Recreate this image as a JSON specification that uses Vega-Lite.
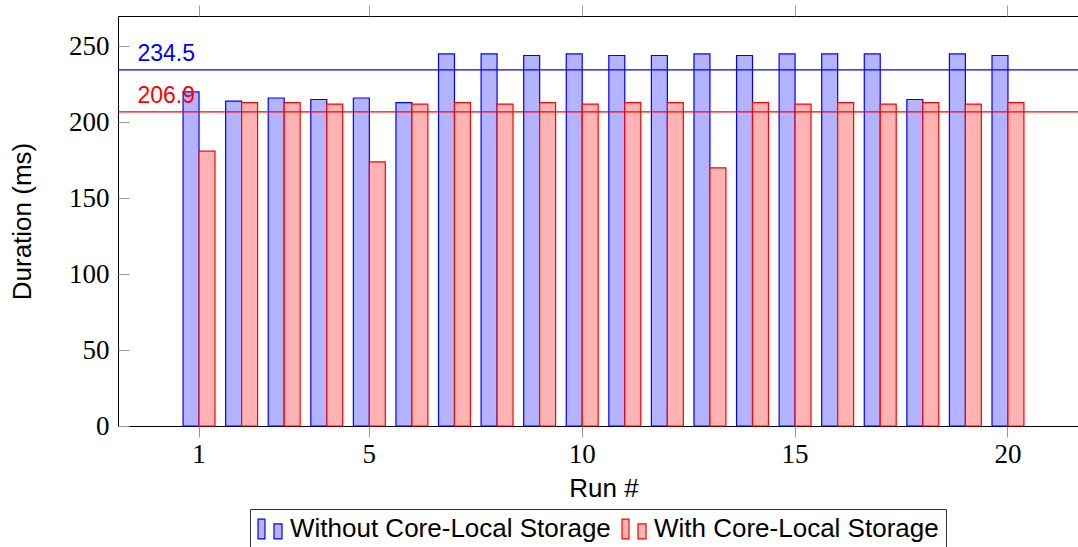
{
  "$schema": "https://vega.github.io/schema/vega-lite/v6.json",
  "width": 962,
  "height": 410,
  "autosize": "none",
  "padding": {"left": 118, "top": 16, "right": 0, "bottom": 121},
  "background": "white",
  "config": {"view": {"stroke": "black", "strokeWidth": 1}, "font": "Liberation Sans"},
  "datasets": {
    "runs": [
      {"run": 1, "series": "Without Core-Local Storage", "duration": 220},
      {"run": 2, "series": "Without Core-Local Storage", "duration": 214},
      {"run": 3, "series": "Without Core-Local Storage", "duration": 216},
      {"run": 4, "series": "Without Core-Local Storage", "duration": 215},
      {"run": 5, "series": "Without Core-Local Storage", "duration": 216},
      {"run": 6, "series": "Without Core-Local Storage", "duration": 213},
      {"run": 7, "series": "Without Core-Local Storage", "duration": 245},
      {"run": 8, "series": "Without Core-Local Storage", "duration": 245},
      {"run": 9, "series": "Without Core-Local Storage", "duration": 244},
      {"run": 10, "series": "Without Core-Local Storage", "duration": 245},
      {"run": 11, "series": "Without Core-Local Storage", "duration": 244},
      {"run": 12, "series": "Without Core-Local Storage", "duration": 244},
      {"run": 13, "series": "Without Core-Local Storage", "duration": 245},
      {"run": 14, "series": "Without Core-Local Storage", "duration": 244},
      {"run": 15, "series": "Without Core-Local Storage", "duration": 245},
      {"run": 16, "series": "Without Core-Local Storage", "duration": 245},
      {"run": 17, "series": "Without Core-Local Storage", "duration": 245},
      {"run": 18, "series": "Without Core-Local Storage", "duration": 215},
      {"run": 19, "series": "Without Core-Local Storage", "duration": 245},
      {"run": 20, "series": "Without Core-Local Storage", "duration": 244},
      {"run": 1, "series": "With Core-Local Storage", "duration": 181},
      {"run": 2, "series": "With Core-Local Storage", "duration": 213},
      {"run": 3, "series": "With Core-Local Storage", "duration": 213},
      {"run": 4, "series": "With Core-Local Storage", "duration": 212},
      {"run": 5, "series": "With Core-Local Storage", "duration": 174},
      {"run": 6, "series": "With Core-Local Storage", "duration": 212},
      {"run": 7, "series": "With Core-Local Storage", "duration": 213},
      {"run": 8, "series": "With Core-Local Storage", "duration": 212},
      {"run": 9, "series": "With Core-Local Storage", "duration": 213},
      {"run": 10, "series": "With Core-Local Storage", "duration": 212},
      {"run": 11, "series": "With Core-Local Storage", "duration": 213},
      {"run": 12, "series": "With Core-Local Storage", "duration": 213},
      {"run": 13, "series": "With Core-Local Storage", "duration": 170},
      {"run": 14, "series": "With Core-Local Storage", "duration": 213},
      {"run": 15, "series": "With Core-Local Storage", "duration": 212},
      {"run": 16, "series": "With Core-Local Storage", "duration": 213},
      {"run": 17, "series": "With Core-Local Storage", "duration": 212},
      {"run": 18, "series": "With Core-Local Storage", "duration": 213},
      {"run": 19, "series": "With Core-Local Storage", "duration": 212},
      {"run": 20, "series": "With Core-Local Storage", "duration": 213}
    ],
    "means": [
      {"series": "Without Core-Local Storage", "mean": 234.5},
      {"series": "With Core-Local Storage", "mean": 206.9}
    ]
  },
  "resolve": {"axis": {"x": "independent"}},
  "layer": [
    {
      "data": {"name": "runs"},
      "mark": {"type": "bar", "strokeWidth": 1.2},
      "encoding": {
        "x": {
          "field": "run", "type": "ordinal",
          "scale": {"range": [22.5, 948.5], "paddingInner": 0.25, "paddingOuter": 1, "align": 0.5},
          "axis": {
            "orient": "bottom", "title": "Run #", "values": [1, 5, 10, 15, 20], "labelAngle": 0, "domain": false,
            "tickSize": 11, "tickColor": "#999999",
            "labelFont": "Liberation Serif", "labelFontSize": 27, "labelColor": "black", "labelPadding": 4,
            "titleFont": "Liberation Sans", "titleFontSize": 26, "titleFontWeight": "normal", "titleColor": "black", "titlePadding": 8
          }
        },
        "xOffset": {
          "field": "series", "type": "nominal",
          "scale": {"domain": ["Without Core-Local Storage", "With Core-Local Storage"], "paddingInner": 0, "paddingOuter": 0}
        },
        "y": {
          "field": "duration", "type": "quantitative",
          "scale": {"domain": [0, 270], "nice": false},
          "axis": {
            "title": "Duration (ms)", "values": [0, 50, 100, 150, 200, 250], "grid": false, "domain": false,
            "tickSize": -11, "tickColor": "#999999",
            "labelFont": "Liberation Serif", "labelFontSize": 27, "labelColor": "black", "labelPadding": 20,
            "titleFont": "Liberation Sans", "titleFontSize": 26, "titleFontWeight": "normal", "titleColor": "black", "titlePadding": 33
          }
        },
        "fill": {
          "field": "series", "type": "nominal",
          "scale": {"domain": ["Without Core-Local Storage", "With Core-Local Storage"], "range": ["#b3b3ff", "#ffb3b3"]},
          "legend": {
            "title": null, "orient": "none", "legendX": 132, "legendY": 493, "direction": "horizontal",
            "symbolType": "M-1,-0.83H-0.42V0.83H-1Z M0.33,-0.42H1V0.83H0.33Z", "symbolSize": 576, "symbolStrokeWidth": 1.2,
            "labelFont": "Liberation Sans", "labelFontSize": 26, "labelColor": "black", "labelOffset": 7,
            "columnPadding": 8, "padding": 7, "strokeColor": "#333333", "labelLimit": 500
          }
        },
        "stroke": {
          "field": "series", "type": "nominal",
          "scale": {"domain": ["Without Core-Local Storage", "With Core-Local Storage"], "range": ["#0000ff", "#ff0000"]},
          "legend": {
            "title": null, "orient": "none", "legendX": 132, "legendY": 493, "direction": "horizontal",
            "symbolType": "M-1,-0.83H-0.42V0.83H-1Z M0.33,-0.42H1V0.83H0.33Z", "symbolSize": 576, "symbolStrokeWidth": 1.2,
            "labelFont": "Liberation Sans", "labelFontSize": 26, "labelColor": "black", "labelOffset": 7,
            "columnPadding": 8, "padding": 7, "strokeColor": "#333333", "labelLimit": 500
          }
        }
      }
    },
    {
      "data": {"name": "means"},
      "mark": {"type": "rule", "strokeWidth": 1.2},
      "encoding": {
        "y": {"field": "mean", "type": "quantitative"},
        "color": {
          "field": "series", "type": "nominal",
          "scale": {"domain": ["Without Core-Local Storage", "With Core-Local Storage"], "range": ["#0000ff", "#ff0000"]},
          "legend": null
        }
      }
    },
    {
      "data": {"name": "means"},
      "mark": {"type": "text", "align": "right", "baseline": "alphabetic", "dx": -4, "dy": -9, "font": "Liberation Sans", "fontSize": 23},
      "encoding": {
        "x": {
          "datum": 1, "type": "ordinal",
          "axis": {"orient": "top", "title": null, "values": [1, 5, 10, 15, 20], "labels": false, "domain": false, "tickSize": 11, "tickColor": "#999999", "grid": false}
        },
        "y": {"field": "mean", "type": "quantitative"},
        "text": {"field": "mean", "type": "quantitative", "format": ".1f"},
        "color": {"field": "series", "type": "nominal", "legend": null}
      }
    }
  ]
}
